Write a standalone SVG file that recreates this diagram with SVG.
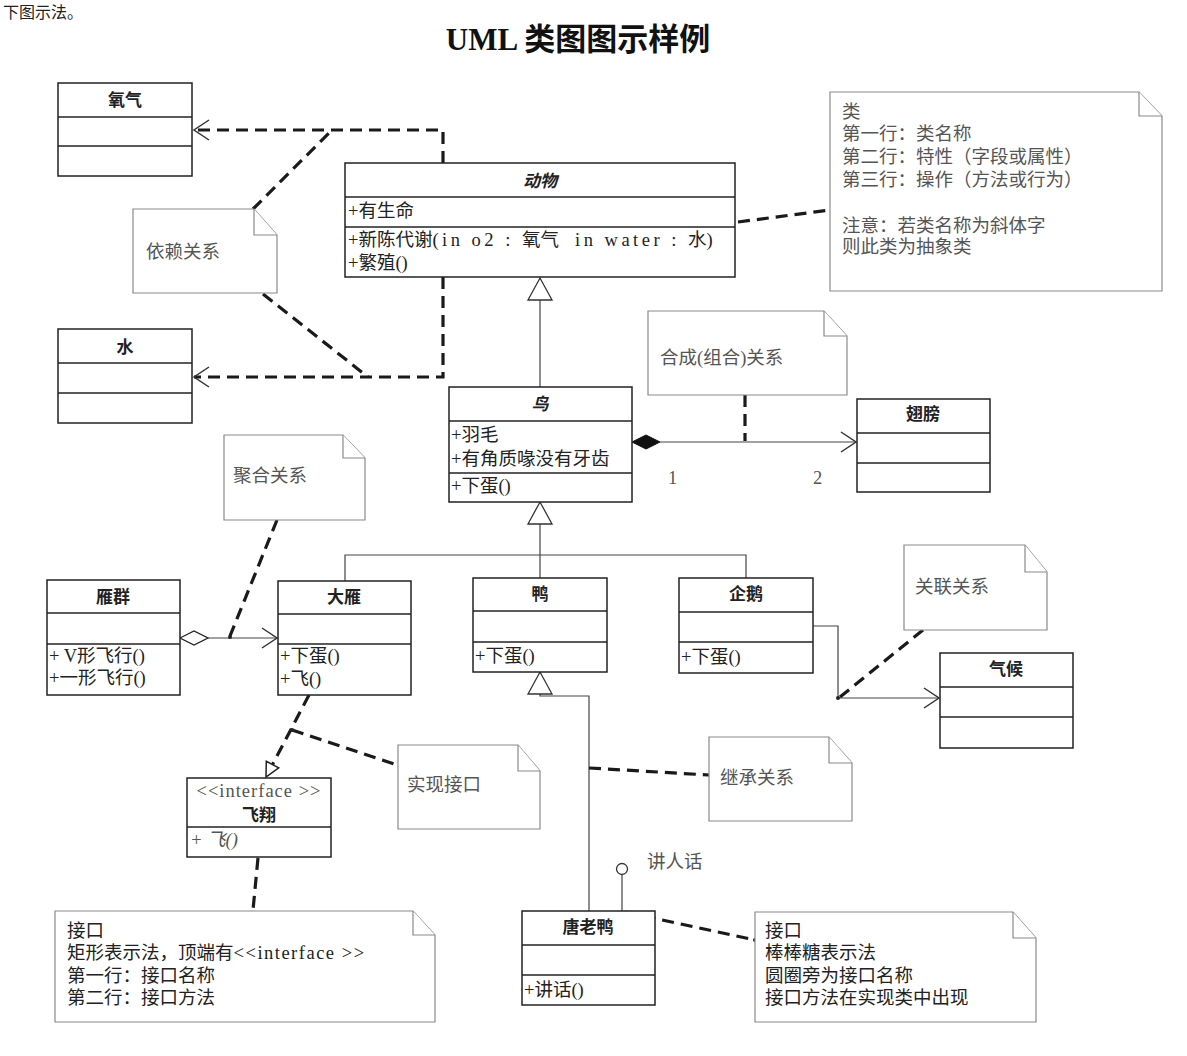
<svg xmlns="http://www.w3.org/2000/svg" width="1187" height="1056" viewBox="0 0 1187 1056">
<style>
.bg{fill:#fff}
.box{fill:#fff;stroke:#222;stroke-width:1.5}
.div{stroke:#222;stroke-width:1.5}
.note{fill:#fff;stroke:#8a8a8a;stroke-width:1.2}
.dash{fill:none;stroke:#1a1a1a;stroke-width:3.2;stroke-dasharray:12 7}
.solid{fill:none;stroke:#444;stroke-width:1.2}
.t{font-family:"Liberation Serif","Noto Sans CJK SC",serif;font-size:18.5px;fill:#222}
.nt{font-family:"Liberation Serif","Noto Sans CJK SC",serif;font-size:18.5px;fill:#555}
.name{font-weight:bold;text-anchor:middle;font-size:17px}
.it{font-style:italic}
.lat{letter-spacing:3.5px}
.title{font-family:"Liberation Serif","Noto Sans CJK SC",serif;font-size:31px;font-weight:bold;fill:#111;text-anchor:middle}
</style>
<defs>
<marker id="open" markerUnits="userSpaceOnUse" markerWidth="16" markerHeight="20" refX="15" refY="10" orient="auto" overflow="visible">
<path d="M0,0 L15,10 L0,20" fill="none" stroke="#333" stroke-width="1.5" stroke-dasharray="none"/>
</marker>
<marker id="tri" markerUnits="userSpaceOnUse" markerWidth="24" markerHeight="26" refX="22" refY="12" orient="auto" overflow="visible">
<path d="M0,0 L22,12 L0,24 Z" fill="#fff" stroke="#333" stroke-width="1.3"/>
</marker>
<marker id="tris" markerUnits="userSpaceOnUse" markerWidth="16" markerHeight="14" refX="14" refY="7" orient="auto" overflow="visible">
<path d="M0,0 L14,7 L0,14 Z" fill="#fff" stroke="#222" stroke-width="1.5" stroke-dasharray="none"/>
</marker>
</defs>
<rect class="bg" x="0" y="0" width="1187" height="1056"/>
<text x="3" y="18" style="font-family:'Noto Sans CJK SC',sans-serif;font-size:16px;fill:#222">下图示法。</text>
<text class="title" x="578" y="50">UML 类图图示样例</text>

<g id="connectors">
<path class="dash" d="M443,163 V130 H194" marker-end="url(#open)"/>
<path class="dash" d="M443,277 V377 H194" marker-end="url(#open)"/>
<path class="dash" d="M253,209 L332,130"/>
<path class="dash" d="M263,294 L368,377"/>
<path class="dash" d="M738,222 L830,210"/>
<path class="solid" d="M540,387 V278" marker-end="url(#tri)"/>
<polygon points="632,442 646,435 660,442 646,449" fill="#111" stroke="#111" stroke-width="1"/>
<path class="solid" d="M660,442 H856" marker-end="url(#open)"/>
<path class="dash" d="M745,395 V441"/>
<path class="solid" d="M540,555 V502" marker-end="url(#tri)"/>
<path class="solid" d="M345,581 V555 H746 V578"/>
<path class="solid" d="M540,555 V578"/>
<polygon points="180,638 194,631 208,638 194,645" fill="#fff" stroke="#222" stroke-width="1.3"/>
<path class="solid" d="M208,638 H277" marker-end="url(#open)"/>
<path class="dash" d="M277,520 L230,636"/>
<circle cx="230" cy="637" r="2" fill="#222"/>
<path class="solid" d="M813,626 H838 V698 H939" marker-end="url(#open)"/>
<path class="dash" d="M923,630 L840,697"/>
<circle cx="838" cy="698" r="2" fill="#222"/>
<path class="solid" d="M589,911 V696 H540 V672" marker-end="url(#tri)"/>
<path class="dash" d="M589,768 L709,775"/>
<path class="dash" d="M309,695 L266,777" marker-end="url(#tris)"/>
<path class="dash" d="M292,730 L397,765"/>
<circle cx="292" cy="730" r="2" fill="#222"/>
<path class="dash" d="M258,858 L253,910"/>
<circle cx="622" cy="869" r="5.5" fill="#fff" stroke="#333" stroke-width="1.3"/>
<path class="solid" d="M622,875 V911"/>
<path class="dash" d="M625,912 L755,940"/>
<circle cx="755" cy="940" r="2" fill="#222"/>
</g>

<g id="n-oxygen">
<rect class="box" x="58" y="83" width="134" height="93"/>
<line class="div" x1="58" y1="117" x2="192" y2="117"/>
<line class="div" x1="58" y1="146" x2="192" y2="146"/>
<text class="t name" x="125" y="106">氧气</text>
</g>
<g id="n-water">
<rect class="box" x="58" y="329" width="134" height="94"/>
<line class="div" x1="58" y1="363" x2="192" y2="363"/>
<line class="div" x1="58" y1="393" x2="192" y2="393"/>
<text class="t name" x="125" y="353">水</text>
</g>
<g id="n-animal">
<rect class="box" x="345" y="163" width="390" height="114"/>
<line class="div" x1="345" y1="197" x2="735" y2="197"/>
<line class="div" x1="345" y1="227" x2="735" y2="227"/>
<text class="t name it" x="540" y="187">动物</text>
<text class="t" x="348" y="217">+有生命</text>
<text class="t" x="348" y="246">+新陈代谢<tspan class="lat">(in o2 : </tspan>氧气<tspan class="lat" dx="16">in water : </tspan>水)</text>
<text class="t" x="348" y="269">+繁殖()</text>
</g>
<g id="n-bird">
<rect class="box" x="449" y="387" width="183" height="115"/>
<line class="div" x1="449" y1="421" x2="632" y2="421"/>
<line class="div" x1="449" y1="473" x2="632" y2="473"/>
<text class="t name it" x="540" y="410">鸟</text>
<text class="t" x="451" y="441">+羽毛</text>
<text class="t" x="451" y="465">+有角质喙没有牙齿</text>
<text class="t" x="451" y="492">+下蛋()</text>
</g>
<g id="n-wing">
<rect class="box" x="857" y="399" width="133" height="93"/>
<line class="div" x1="857" y1="433" x2="990" y2="433"/>
<line class="div" x1="857" y1="463" x2="990" y2="463"/>
<text class="t name" x="923" y="420">翅膀</text>
<text class="nt" x="668" y="484">1</text>
<text class="nt" x="813" y="484">2</text>
</g>
<g id="n-flock">
<rect class="box" x="47" y="580" width="133" height="115"/>
<line class="div" x1="47" y1="613" x2="180" y2="613"/>
<line class="div" x1="47" y1="644" x2="180" y2="644"/>
<text class="t name" x="113" y="603">雁群</text>
<text class="t" x="49" y="662">+ V形飞行()</text>
<text class="t" x="49" y="684">+一形飞行()</text>
</g>
<g id="n-goose">
<rect class="box" x="278" y="581" width="133" height="114"/>
<line class="div" x1="278" y1="614" x2="411" y2="614"/>
<line class="div" x1="278" y1="644" x2="411" y2="644"/>
<text class="t name" x="344" y="603">大雁</text>
<text class="t" x="280" y="662">+下蛋()</text>
<text class="t" x="280" y="685">+飞()</text>
</g>
<g id="n-duck">
<rect class="box" x="473" y="578" width="134" height="94"/>
<line class="div" x1="473" y1="611" x2="607" y2="611"/>
<line class="div" x1="473" y1="642" x2="607" y2="642"/>
<text class="t name" x="540" y="600">鸭</text>
<text class="t" x="475" y="662">+下蛋()</text>
</g>
<g id="n-penguin">
<rect class="box" x="679" y="578" width="134" height="95"/>
<line class="div" x1="679" y1="612" x2="813" y2="612"/>
<line class="div" x1="679" y1="642" x2="813" y2="642"/>
<text class="t name" x="746" y="600">企鹅</text>
<text class="t" x="681" y="663">+下蛋()</text>
</g>
<g id="n-climate">
<rect class="box" x="940" y="653" width="133" height="95"/>
<line class="div" x1="940" y1="687" x2="1073" y2="687"/>
<line class="div" x1="940" y1="717" x2="1073" y2="717"/>
<text class="t name" x="1006" y="675">气候</text>
</g>
<g id="n-fly">
<rect class="box" x="187" y="778" width="144" height="79"/>
<line class="div" x1="187" y1="827" x2="331" y2="827"/>
<text class="nt" x="259" y="797" text-anchor="middle" letter-spacing="1">&lt;&lt;interface &gt;&gt;</text>
<text class="t name" x="259" y="821">飞翔</text>
<text class="nt it" x="190" y="846">+ 飞()</text>
</g>
<g id="n-tang">
<rect class="box" x="522" y="911" width="133" height="94"/>
<line class="div" x1="522" y1="945" x2="655" y2="945"/>
<line class="div" x1="522" y1="975" x2="655" y2="975"/>
<text class="t name" x="588" y="933">唐老鸭</text>
<text class="t" x="524" y="996">+讲话()</text>
<text class="nt" x="647" y="868">讲人话</text>
</g>

<g id="note-dep">
<path class="note" d="M133,209 H254 L277,235 V293 H133 Z"/>
<path class="note" d="M254,209 V235 H277" fill="none"/>
<text class="nt" x="146" y="258">依赖关系</text>
</g>
<g id="note-class">
<path class="note" d="M830,92 H1139 L1162,116 V291 H830 Z"/>
<path class="note" d="M1139,92 V116 H1162" fill="none"/>
<text class="nt" x="842" y="118">类</text>
<text class="nt" x="842" y="140">第一行：类名称</text>
<text class="nt" x="842" y="163">第二行：特性（字段或属性）</text>
<text class="nt" x="842" y="186">第三行：操作（方法或行为）</text>
<text class="nt" x="842" y="232">注意：若类名称为斜体字</text>
<text class="nt" x="842" y="253">则此类为抽象类</text>
</g>
<g id="note-comp">
<path class="note" d="M648,311 H824 L847,336 V395 H648 Z"/>
<path class="note" d="M824,311 V336 H847" fill="none"/>
<text class="nt" x="660" y="364">合成(组合)关系</text>
</g>
<g id="note-agg">
<path class="note" d="M224,435 H343 L365,458 V520 H224 Z"/>
<path class="note" d="M343,435 V458 H365" fill="none"/>
<text class="nt" x="233" y="482">聚合关系</text>
</g>
<g id="note-assoc">
<path class="note" d="M904,545 H1025 L1047,572 V630 H904 Z"/>
<path class="note" d="M1025,545 V572 H1047" fill="none"/>
<text class="nt" x="915" y="593">关联关系</text>
</g>
<g id="note-inherit">
<path class="note" d="M709,737 H829 L852,763 V821 H709 Z"/>
<path class="note" d="M829,737 V763 H852" fill="none"/>
<text class="nt" x="720" y="784">继承关系</text>
</g>
<g id="note-real">
<path class="note" d="M398,745 H518 L540,771 V829 H398 Z"/>
<path class="note" d="M518,745 V771 H540" fill="none"/>
<text class="nt" x="407" y="791">实现接口</text>
</g>
<g id="note-iface1">
<path class="note" d="M55,911 H413 L435,935 V1022 H55 Z"/>
<path class="note" d="M413,911 V935 H435" fill="none"/>
<text class="t" x="67" y="937">接口</text>
<text class="t" x="67" y="959">矩形表示法，顶端有<tspan letter-spacing="1.5">&lt;&lt;interface &gt;&gt;</tspan></text>
<text class="t" x="67" y="982">第一行：接口名称</text>
<text class="t" x="67" y="1004">第二行：接口方法</text>
</g>
<g id="note-iface2">
<path class="note" d="M755,912 H1013 L1036,938 V1022 H755 Z"/>
<path class="note" d="M1013,912 V938 H1036" fill="none"/>
<text class="t" x="765" y="937">接口</text>
<text class="t" x="765" y="959">棒棒糖表示法</text>
<text class="t" x="765" y="982">圆圈旁为接口名称</text>
<text class="t" x="765" y="1004">接口方法在实现类中出现</text>
</g>
</svg>
